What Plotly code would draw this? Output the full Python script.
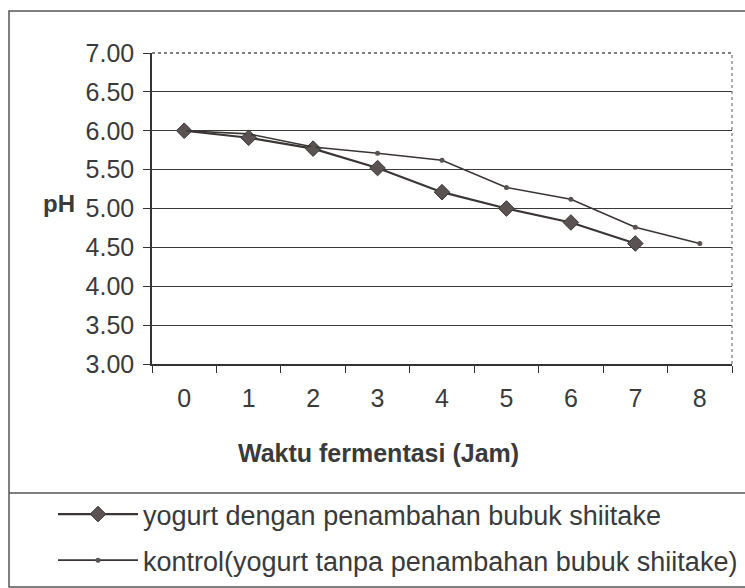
import plotly.graph_objects as go

hours = [0, 1, 2, 3, 4, 5, 6, 7, 8]
tick_labels = ["0", "1", "2", "3", "4", "5", "6", "7", "8"]
ph_shiitake = [6.00, 5.91, 5.77, 5.52, 5.21, 5.00, 4.82, 4.55]
ph_kontrol = [6.00, 5.96, 5.79, 5.71, 5.62, 5.27, 5.12, 4.76, 4.55]
name_shiitake = "yogurt dengan penambahan bubuk shiitake"
name_kontrol = "kontrol(yogurt tanpa penambahan bubuk shiitake)"
y_title = "pH"
x_title = "Waktu fermentasi (Jam)"

FONT = "Liberation Sans, Arial, sans-serif"
TXT = "#3a3a3a"
LINE = "#3b3535"

W, H = 745, 588
PL, PR, PT, PB = 152, 732, 53, 364  # plot area in pixels


def fx(x):
    return x / W


def fy(y):
    return 1 - y / H


fig = go.Figure()
fig.add_trace(go.Scatter(
    x=hours[:len(ph_shiitake)], y=ph_shiitake, name=name_shiitake,
    mode="lines+markers", legendgroup="a",
    line=dict(color=LINE, width=2.2),
    marker=dict(symbol="diamond", size=12, color="#5b5252",
                line=dict(color="#3b3535", width=1)),
))
fig.add_trace(go.Scatter(
    x=hours, y=ph_kontrol, name=name_kontrol,
    mode="lines+markers", legendgroup="b",
    line=dict(color=LINE, width=1.6),
    marker=dict(symbol="circle", size=5, color="#5b5252"),
))

shapes = [
    dict(type="line", xref="paper", yref="paper",
         x0=fx(PL), x1=fx(PR), y0=fy(PT), y1=fy(PT),
         line=dict(color="white", width=3), layer="above"),
    dict(type="line", xref="paper", yref="paper",
         x0=fx(PL), x1=fx(PR), y0=fy(PT), y1=fy(PT),
         line=dict(color="#555", width=1.5, dash="dot"), layer="above"),
    dict(type="line", xref="paper", yref="paper",
         x0=fx(PR), x1=fx(PR), y0=fy(PB), y1=fy(PT),
         line=dict(color="#777", width=1.2, dash="dot"), layer="above"),
    dict(type="rect", xref="paper", yref="paper",
         x0=fx(9), x1=fx(748), y0=fy(587), y1=fy(11),
         line=dict(color="#555", width=1.5), layer="below"),
    dict(type="line", xref="paper", yref="paper",
         x0=fx(9), x1=fx(748), y0=fy(493), y1=fy(493),
         line=dict(color="#555", width=1.5)),
]

annotations = [
    dict(text=y_title, xref="paper", yref="paper", x=fx(59), y=fy(203),
         xanchor="center", yanchor="middle", showarrow=False,
         font=dict(family=FONT, size=24, color=TXT, weight="bold")),
    dict(text=x_title, xref="paper", yref="paper", x=fx(378), y=fy(453),
         xanchor="center", yanchor="middle", showarrow=False,
         font=dict(family=FONT, size=25, color=TXT, weight="bold")),
]

fig.update_layout(
    width=W, height=H,
    margin=dict(l=0, r=0, t=0, b=0, autoexpand=False),
    paper_bgcolor="white", plot_bgcolor="white",
    font=dict(family=FONT, size=24, color=TXT),
    shapes=shapes, annotations=annotations,
    showlegend=True,
    legend=dict(x=fx(53), y=fy(490), xanchor="left", yanchor="top",
                bgcolor="rgba(0,0,0,0)", itemwidth=80,
                traceorder="grouped", tracegroupgap=8,
                font=dict(family=FONT, size=27, color=TXT)),
    xaxis=dict(domain=[fx(PL), fx(PR)],
               range=[-0.5, 8.5], tickmode="array", tickvals=hours,
               ticktext=tick_labels, ticks="", showgrid=False,
               showline=True, linecolor="#333", linewidth=1.5,
               ticklabelstandoff=11, zeroline=False, automargin=False,
               tickfont=dict(family=FONT, size=25, color=TXT),
               minor=dict(tickmode="linear", tick0=-0.5, dtick=1,
                          ticks="outside", ticklen=7, tickcolor="#333",
                          tickwidth=1.2, showgrid=False)),
    yaxis=dict(domain=[fy(PB), fy(PT)],
               range=[3, 7], dtick=0.5, tick0=3, tickformat=".2f",
               ticks="outside", ticklen=7, tickcolor="#333", tickwidth=1.2,
               showgrid=True, gridcolor="#3a3a3a", gridwidth=1.4,
               showline=True, linecolor="#333", linewidth=1.5,
               zeroline=False, ticklabelstandoff=4, automargin=False,
               tickfont=dict(family=FONT, size=25, color=TXT)),
)

fig.write_html("out.html",
               config={"displayModeBar": False},
               post_script="document.body.style.margin='0px';")
